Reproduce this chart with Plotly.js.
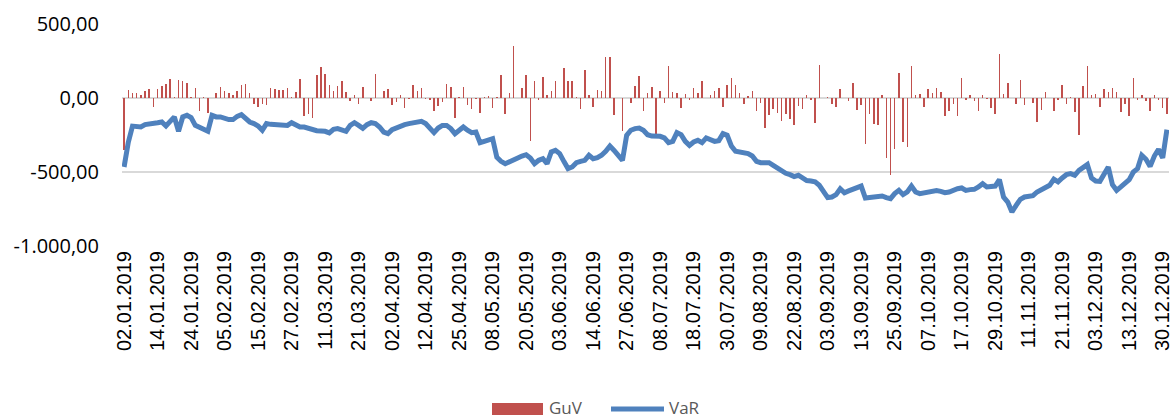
<!DOCTYPE html>
<html>
<head>
<meta charset="utf-8">
<script src="https://cdn.plot.ly/plotly-3.0.1.min.js"></script>
<style>
  html, body { margin: 0; padding: 0; background: #ffffff; }
  #chart { width: 1173px; height: 419px; }
</style>
</head>
<body>
<div id="chart"></div>
<script>
// ---- Data ----
const dateLabels = [
  "02.01.2019","14.01.2019","24.01.2019","05.02.2019","15.02.2019","27.02.2019",
  "11.03.2019","21.03.2019","02.04.2019","12.04.2019","25.04.2019","08.05.2019",
  "20.05.2019","03.06.2019","14.06.2019","27.06.2019","08.07.2019","18.07.2019",
  "30.07.2019","09.08.2019","22.08.2019","03.09.2019","13.09.2019","25.09.2019",
  "07.10.2019","17.10.2019","29.10.2019","11.11.2019","21.11.2019","03.12.2019",
  "13.12.2019","30.12.2019"
];

const guv = [
  -350, 52, 34, 32, 23, 45, 59, -61, 63, 81,
  97, 131, 4, 119, 115, 101, 9, 68, -90, 5,
  -99, 0, 34, 77, 45, 36, 18, 45, 86, 92,
  36, -43, -61, -43, -45, 70, 63, 56, 56, 70,
  5, 40, 126, -122, -106, -133, 158, 209, 160, 86,
  50, 79, 113, 40, -22, 18, -43, 72, 3, -18,
  164, 0, 45, 63, -45, -27, 18, -68, -5, 86,
  45, 70, -9, -11, -88, -56, -27, 97, 74, -135,
  5, 72, -45, -77, -5, -104, 9, 11, -68, 5,
  153, -110, 36, 349, 0, 68, 158, -293, 113, -16,
  140, 23, 45, 113, 0, 205, 115, 115, 5, -72,
  189, 18, -61, 52, 45, 277, 277, -113, 0, -223,
  0, -34, 79, 147, -90, 36, 74, -248, 45, -32,
  214, 41, 34, -65, 29, -11, 68, 36, 113, 3,
  23, 45, 68, -61, 86, 135, 90, 36, -38, 11,
  45, -90, -32, -203, -113, -77, -99, -158, -110, -144,
  -180, -56, -72, 18, -11, -167, 221, 0, 5, -38,
  -61, 59, 0, -23, 104, -83, -45, -309, -106, -173,
  -185, 18, -405, -518, -342, 171, -297, -331, 216, 18,
  29, -61, 59, 36, 70, 41, -122, -90, -38, -122,
  135, -16, 18, -20, -90, 23, -9, -68, -106, 300,
  25, 101, 0, -38, 119, -45, 0, -32, -162, -83,
  41, 0, -90, -11, 86, -38, 5, -95, -248, 81,
  216, 18, 29, -61, 59, 41, 70, 41, -95, -43,
  -124, 135, -16, 18, -20, -90, 23, -14, -68, -110
];

const vaR = [
  -466, -300, -190, -189, -196, -180, -173, -169, -167, -162,
  -189, -158, -128, -225, -128, -117, -133, -185, -196, -207,
  -225, -117, -128, -128, -140, -146, -146, -124, -113, -135,
  -162, -173, -189, -218, -173, -178, -180, -185, -185, -185,
  -167, -185, -196, -196, -203, -218, -221, -223, -225, -236,
  -212, -207, -212, -225, -185, -167, -185, -205, -180, -167,
  -173, -196, -230, -241, -214, -203, -185, -180, -173, -167,
  -162, -158, -173, -207, -234, -203, -185, -185, -207, -241,
  -218, -196, -218, -234, -230, -302, -293, -286, -275, -400,
  -428, -444, -428, -414, -405, -392, -383, -405, -444, -421,
  -410, -444, -365, -354, -376, -428, -477, -466, -437, -428,
  -421, -387, -410, -403, -387, -360, -325, -354, -383, -421,
  -252, -218, -207, -203, -218, -248, -257, -259, -259, -270,
  -302, -293, -234, -248, -293, -320, -297, -286, -302, -270,
  -286, -293, -288, -241, -252, -324, -360, -365, -369, -376,
  -392, -428, -437, -439, -437, -455, -473, -500, -509, -518,
  -531, -522, -545, -558, -561, -567, -590, -635, -673, -669,
  -653, -613, -640, -628, -617, -606, -595, -676, -673, -671,
  -664, -662, -673, -680, -646, -624, -653, -635, -595, -635,
  -646, -642, -635, -631, -626, -631, -640, -635, -622, -613,
  -608, -624, -619, -617, -601, -579, -601, -597, -595, -552,
  -669, -703, -770, -725, -685, -669, -664, -660, -635, -617,
  -606, -590, -549, -567, -540, -518, -511, -522, -489, -473,
  -450, -540, -561, -563, -511, -466, -586, -624, -601, -579,
  -552, -500, -477, -387, -414, -462, -392, -347, -405, -214
];

const yTickValues = [-1000, -500, 0, 500];
const yTickLabels = ["-1.000,00", "-500,00", "0,00", "500,00"];
const seriesNames = ["GuV", "VaR"];

// ---- Layout helpers ----
const W = 1173, H = 419;
const M = { l: 122, r: 4, t: 24, b: 173 };
const px2x = px => (px - M.l) / (W - M.l - M.r);
const py2y = py => (H - M.b - py) / (H - M.t - M.b);

const dayIndex = guv.map((_, i) => i);
const labelStep = 8;
const tickPos = dateLabels.map((_, k) => k * labelStep);

const RED = "#C0504D";
const BLUE = "#4F81BD";
const legendFont = { family: "Open Sans, sans-serif", size: 17, color: "#595959" };

const traces = [
  {
    type: "bar",
    name: seriesNames[0],
    x: dayIndex,
    y: guv,
    width: 0.36,
    marker: { color: RED, line: { width: 0 } },
    hoverinfo: "y"
  },
  {
    type: "scatter",
    mode: "lines",
    name: seriesNames[1],
    x: dayIndex,
    y: vaR,
    line: { color: BLUE, width: 5, shape: "linear" },
    hoverinfo: "y"
  }
];

const layout = {
  width: W,
  height: H,
  margin: M,
  paper_bgcolor: "#ffffff",
  plot_bgcolor: "#ffffff",
  showlegend: false,
  bargap: 0,
  xaxis: {
    range: [-0.5, guv.length - 0.5],
    tickmode: "array",
    tickvals: tickPos,
    ticktext: dateLabels,
    tickangle: -90,
    ticklabeloverflow: "allow",
    showgrid: false,
    zeroline: false,
    showline: false,
    ticks: "",
    tickfont: { family: "Liberation Sans, Arial, sans-serif", size: 20, color: "#000000" },
    fixedrange: true
  },
  yaxis: {
    range: [-1000, 500],
    tickmode: "array",
    tickvals: yTickValues,
    ticktext: yTickLabels,
    showgrid: true,
    gridcolor: "#D9D9D9",
    gridwidth: 1.5,
    zeroline: false,
    showline: false,
    ticks: "",
    ticklabelstandoff: 22,
    tickfont: { family: "Open Sans, sans-serif", size: 20, color: "#000000" },
    fixedrange: true
  },
  // Legend drawn as swatches + labels to match the reference's wide swatches
  shapes: [
    {
      type: "rect", xref: "paper", yref: "paper",
      x0: px2x(492), x1: px2x(543), y0: py2y(415), y1: py2y(403),
      fillcolor: RED, line: { width: 0 }
    },
    {
      type: "line", xref: "paper", yref: "paper",
      x0: px2x(611), x1: px2x(664), y0: py2y(409), y1: py2y(409),
      line: { color: BLUE, width: 5 }
    }
  ],
  annotations: [
    {
      xref: "paper", yref: "paper", x: px2x(548), y: py2y(407),
      xanchor: "left", yanchor: "middle", showarrow: false, borderpad: 0,
      text: seriesNames[0], font: legendFont
    },
    {
      xref: "paper", yref: "paper", x: px2x(668), y: py2y(407),
      xanchor: "left", yanchor: "middle", showarrow: false, borderpad: 0,
      text: seriesNames[1], font: legendFont
    }
  ]
};

Plotly.newPlot("chart", traces, layout, { displayModeBar: false, staticPlot: true });
</script>
</body>
</html>
